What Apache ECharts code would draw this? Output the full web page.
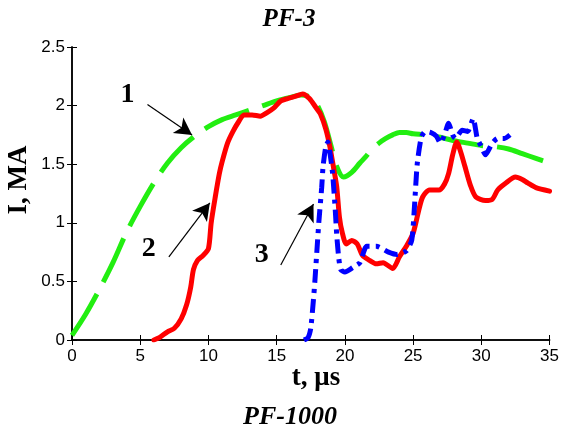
<!DOCTYPE html>
<html><head><meta charset="utf-8">
<script src="https://cdn.jsdelivr.net/npm/echarts@6/dist/echarts.min.js"></script>
<style>html,body{margin:0;padding:0;background:#fff}#c{width:562px;height:435px}</style>
</head><body><div id="c"></div>
<script>
// Curve 1 (green, dashed)
const greenT = [0,1,2,3,4,5,6,7,8,9,10,11,12,13,14,15,16,16.8,17.5,18,18.5,19,19.4,19.9,20.5,21.1,21.5,22,22.5,23,23.5,24,24.5,25,26,27,28,29,30,31,32,33,34,35];
const greenI = [0.04,0.22,0.43,0.66,0.92,1.14,1.34,1.51,1.64,1.74,1.82,1.88,1.92,1.96,2.0,2.04,2.07,2.09,2.07,2.0,1.86,1.65,1.48,1.39,1.43,1.51,1.56,1.63,1.68,1.72,1.75,1.77,1.77,1.76,1.75,1.73,1.70,1.68,1.66,1.65,1.63,1.59,1.55,1.51];
// Curve 2 (red, solid)
const redT = [6.0,6.4,7.0,7.5,8.0,8.4,8.7,8.9,9.2,9.6,10.0,10.2,10.5,10.8,11.0,11.4,11.8,12.2,12.6,13.2,13.8,14.3,14.8,15.3,15.8,16.4,16.9,17.4,17.9,18.2,18.6,18.9,19.2,19.4,19.6,19.8,20.1,20.5,20.9,21.3,21.8,22.3,22.8,23.5,24.0,24.5,25.0,25.4,25.7,26.2,26.9,27.3,27.6,27.9,28.2,28.5,28.8,29.2,29.6,30.3,30.8,31.2,31.8,32.5,33.0,33.4,34.0,35.0];
const redI = [0.0,0.02,0.07,0.1,0.18,0.3,0.45,0.6,0.68,0.72,0.78,1.0,1.22,1.42,1.52,1.68,1.78,1.86,1.92,1.92,1.91,1.94,1.98,2.04,2.06,2.08,2.10,2.06,1.98,1.93,1.80,1.65,1.45,1.31,1.05,0.92,0.82,0.85,0.82,0.72,0.68,0.65,0.66,0.61,0.71,0.80,0.91,1.10,1.22,1.28,1.28,1.33,1.42,1.58,1.69,1.60,1.48,1.32,1.22,1.19,1.20,1.28,1.34,1.39,1.37,1.34,1.30,1.27];
// Curve 3 (blue, dash-dot)
const blueT = [17.0,17.3,17.5,17.7,17.8,18.0,18.1,18.3,18.4,18.6,18.75,18.9,19.1,19.3,19.4,19.55,19.7,20.0,20.6,21.1,21.6,22.3,23.2,23.8,24.5,24.9,25.1,25.3,25.6,25.9,26.3,26.7,27.0,27.3,27.6,27.9,28.1,28.6,29.0,29.4,29.7,30.0,30.3,30.8,31.2,31.7,32.1];
const blueI = [0.0,0.02,0.1,0.35,0.5,0.85,1.02,1.3,1.48,1.65,1.69,1.6,1.42,1.1,0.9,0.7,0.6,0.58,0.62,0.66,0.8,0.8,0.75,0.73,0.76,0.85,1.14,1.5,1.73,1.78,1.77,1.74,1.68,1.75,1.85,1.75,1.72,1.79,1.78,1.89,1.72,1.65,1.58,1.68,1.72,1.72,1.75];
// Annotations
const labelText = ['1','2','3'];
const labelT = [4.06,5.62,13.9];
const labelI = [2.095,0.78,0.725];
const arrowFromT = [5.53,7.1,15.3];
const arrowFromI = [2.01,0.71,0.64];
const arrowToT = [8.8,10.1,17.7];
const arrowToI = [1.75,1.17,1.16];
const xTicks = [0,5,10,15,20,25,30,35];
const yTicks = [0,0.5,1,1.5,2,2.5];

const zip = (a,b) => a.map((v,i)=>[v,b[i]]);
const chart = echarts.init(document.getElementById('c'), null, {renderer:'canvas'});
const tickStyle = {inside:true, length:5, lineStyle:{color:'#000', width:1}};
const lineAx = {lineStyle:{color:'#000', width:1.5}};
const lblStyle = {color:'#000', fontFamily:'Liberation Sans', fontSize:17};
const serif = 'Liberation Serif';
chart.setOption({
  animation:false,
  backgroundColor:'#fff',
  grid:{left:72, right:7, top:47, bottom:95, containLabel:false},
  xAxis:[
    {type:'value', min:xTicks[0], max:xTicks[xTicks.length-1], interval:5, position:'bottom',
     axisLine:lineAx, axisTick:tickStyle, splitLine:{show:false},
     axisLabel:Object.assign({margin:8}, lblStyle)},
    {type:'value', min:xTicks[0], max:xTicks[xTicks.length-1], interval:5, position:'top',
     axisLine:lineAx, axisTick:tickStyle, splitLine:{show:false}, axisLabel:{show:false}}
  ],
  yAxis:[
    {type:'value', min:yTicks[0], max:yTicks[yTicks.length-1], interval:0.5, position:'left',
     axisLine:Object.assign({show:true}, lineAx), axisTick:Object.assign({show:true}, tickStyle), splitLine:{show:false},
     axisLabel:Object.assign({margin:7}, lblStyle)},
    {type:'value', min:yTicks[0], max:yTicks[yTicks.length-1], interval:0.5, position:'right',
     axisLine:Object.assign({show:true}, lineAx), axisTick:Object.assign({show:true}, tickStyle), splitLine:{show:false}, axisLabel:{show:false}}
  ],
  series:[
    {type:'line', data:zip(greenT,greenI), showSymbol:false, symbol:'none', smooth:0.3,
     lineStyle:{color:'#22ee11', width:5, type:[48,14], cap:'butt'}},
    {type:'line', data:zip(redT,redI), showSymbol:false, symbol:'none', smooth:0.25,
     lineStyle:{color:'#ff0000', width:5, cap:'round', join:'round'}},
    {type:'line', data:zip(blueT,blueI), showSymbol:false, symbol:'none', smooth:0.2,
     lineStyle:{color:'#0000ff', width:5, type:[14,6,4,6], cap:'butt'},
     markLine:{silent:true, symbol:['none','arrow'], symbolSize:[14,17], animation:false,
       label:{show:false}, lineStyle:{color:'#000', width:1.2, type:'solid', opacity:1},
       itemStyle:{color:'#000', opacity:1},
       emphasis:{disabled:true},
       data:arrowFromT.map((t,i)=>[{coord:[t,arrowFromI[i]]},{coord:[arrowToT[i],arrowToI[i]]}])
     }},
    {type:'scatter', data:labelT.map((t,i)=>[t,labelI[i],labelText[i]]), symbolSize:1,
     itemStyle:{color:'#ffffff', opacity:1}, silent:true, z:10,
     label:{show:true, position:'inside', formatter:p=>p.value[2], color:'#000000', opacity:1,
       fontFamily:serif, fontWeight:'bold', fontSize:28}}
  ],
  graphic:[
    {type:'text', x:289, y:20, style:{text:'PF-3', font:'italic bold 25px "Liberation Serif"', fill:'#000', align:'center', verticalAlign:'middle'}},
    {type:'text', x:316, y:378, style:{text:'t, μs', font:'bold 27px "Liberation Serif"', fill:'#000', align:'center', verticalAlign:'middle'}},
    {type:'text', x:19, y:180, rotation:Math.PI/2, style:{text:'I, MA', font:'bold 27px "Liberation Serif"', fill:'#000', align:'center', verticalAlign:'middle'}},
    {type:'text', x:290, y:417, style:{text:'PF-1000', font:'italic bold 26px "Liberation Serif"', fill:'#000', align:'center', verticalAlign:'middle'}}
  ]
});
</script></body></html>
